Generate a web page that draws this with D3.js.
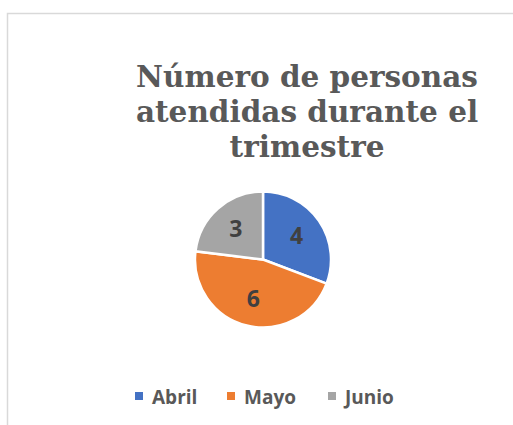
<!DOCTYPE html>
<html>
<head>
<meta charset="utf-8">
<script src="https://d3js.org/d3.v7.min.js"></script>
<style>
  body { margin: 0; background: #fff; }
</style>
</head>
<body>
<div id="chart"></div>
<script>
// data
var months = ["Abril", "Mayo", "Junio"];
var counts = [4, 6, 3];
var colors = ["#4472C4", "#ED7D31", "#A5A5A5"];
var titleLines = ["Número de personas", "atendidas durante el", "trimestre"];

var W = 513, H = 425;
var svg = d3.select("#chart").append("svg")
    .attr("width", W).attr("height", H);

// chart frame
svg.append("rect")
    .attr("x", 7.5).attr("y", 13.5)
    .attr("width", 540).attr("height", 440)
    .attr("fill", "#fff").attr("stroke", "#d9d9d9").attr("stroke-width", 1.5);

// title
svg.append("g").selectAll("text")
    .data(titleLines)
    .enter().append("text")
    .attr("x", 307)
    .attr("y", function(d, i) { return 87 + i * 35; })
    .attr("text-anchor", "middle")
    .style("font-family", "'DejaVu Serif', serif")
    .style("font-weight", "bold")
    .style("font-size", "29.5px")
    .attr("fill", "#595959")
    .text(function(d) { return d; });

// pie
var r = 68;
var g = svg.append("g").attr("transform", "translate(263,259.5)");
var data = months.map(function(m, i) { return {month: m, value: counts[i], color: colors[i]}; });
var pie = d3.pie().sort(null).value(function(d) { return d.value; });
var arc = d3.arc().innerRadius(0).outerRadius(r);
var labelArc = d3.arc().innerRadius(r * 0.6).outerRadius(r * 0.6);

var arcs = pie(data);
g.selectAll("path")
    .data(arcs)
    .enter().append("path")
    .attr("d", arc)
    .attr("fill", function(d) { return d.data.color; })
    .attr("stroke", "#fff")
    .attr("stroke-width", 2.5);

g.selectAll("text")
    .data(arcs)
    .enter().append("text")
    .attr("transform", function(d) { return "translate(" + labelArc.centroid(d) + ")"; })
    .attr("text-anchor", "middle")
    .attr("dy", "0.35em")
    .style("font-family", "'Open Sans', sans-serif")
    .style("font-weight", "bold")
    .style("font-size", "23px")
    .attr("fill", "#404040")
    .text(function(d) { return d.data.value; });

// legend
var legendX = [135, 227, 328];
var lg = svg.append("g").selectAll("g")
    .data(data)
    .enter().append("g")
    .attr("transform", function(d, i) { return "translate(" + legendX[i] + ",404)"; });
lg.append("rect")
    .attr("x", 0).attr("y", -12)
    .attr("width", 8).attr("height", 8)
    .attr("fill", function(d) { return d.color; });
lg.append("text")
    .attr("x", 17)
    .style("font-family", "'Open Sans', sans-serif")
    .style("font-weight", "bold")
    .style("font-size", "19px")
    .attr("fill", "#595959")
    .text(function(d) { return d.month; });
</script>
</body>
</html>
